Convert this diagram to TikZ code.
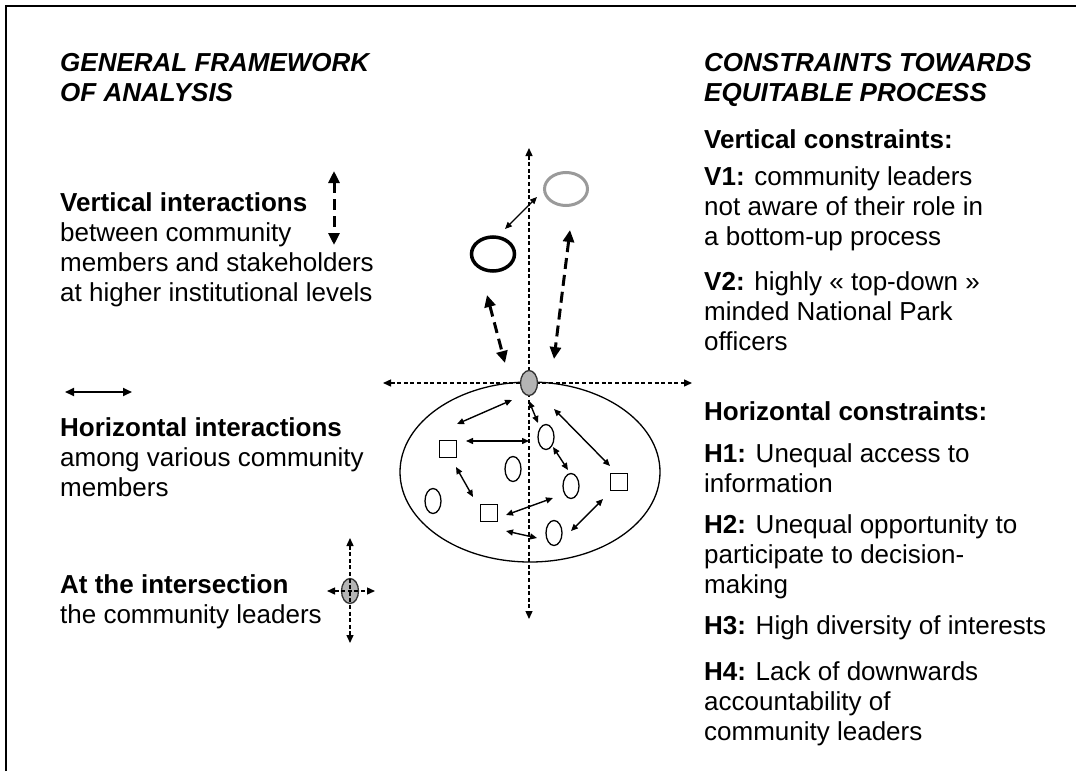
\documentclass[tikz,border=0pt]{standalone}
\usepackage{fontspec}
\setmainfont{Liberation Sans}
\usetikzlibrary{arrows.meta,shapes.geometric}
\definecolor{leadergray}{HTML}{B4B4B4}
\definecolor{ringgray}{HTML}{9A9A9A}
\begin{document}
\begin{tikzpicture}[x=1pt,y=-1pt,
  txt/.style={anchor=north west, inner sep=0pt, align=left, font=\fontsize{26}{30}\selectfont},
  head/.style={txt, font=\fontsize{26}{30}\selectfont\bfseries\itshape},
  axisline/.style={line width=1.4pt, dash pattern=on 4pt off 2.6pt, {Triangle[length=8pt,width=7pt]}-{Triangle[length=8pt,width=7pt]}},
  thinarr/.style={line width=1.4pt, {Triangle[length=7pt,width=6pt]}-{Triangle[length=7pt,width=6pt]}},
  thickarr/.style={line width=3pt, dash pattern=on 11pt off 6pt, {Triangle[length=12pt,width=11pt]}-{Triangle[length=12pt,width=11pt]}},
  member/.style={ellipse, draw, line width=1.3pt, minimum width=16pt, minimum height=25pt, inner sep=0pt},
  stake/.style={rectangle, draw, line width=1.3pt, minimum width=17pt, minimum height=17pt, inner sep=0pt},
  leader/.style={ellipse, draw=black!80, fill=leadergray, line width=1.3pt, minimum width=17pt, minimum height=25pt, inner sep=0pt}
]
\useasboundingbox (0,0) rectangle (1076,771);
% frame
\coordinate (fbl) at (6,771);
\coordinate (ftl) at (6,6);
\coordinate (ftr) at (1076,6);
\draw[line width=2.6pt] (fbl) -- (ftl) -- (ftr);

% ---------- left column ----------
\node[head] (lhead) at (60,53.4) {GENERAL FRAMEWORK\\OF ANALYSIS};
\node[txt] (vint) at (60,192.4) {\textbf{Vertical interactions}\\between community\\members and stakeholders\\at higher institutional levels};
\node[txt] (hint) at (60,417.4) {\textbf{Horizontal interactions}\\among various community\\members};
\node[txt] (iint) at (60,574.4) {\textbf{At the intersection}\\the community leaders};

% legend: vertical
\coordinate (lv1) at (334,171);
\coordinate (lv2) at (334,245);
\draw[thickarr] (lv1) -- (lv2);
% legend: horizontal
\coordinate (lh1) at (65,392);
\coordinate (lh2) at (132,392);
\draw[line width=2pt, {Triangle[length=9pt,width=8pt]}-{Triangle[length=9pt,width=8pt]}] (lh1) -- (lh2);
% legend: intersection
\node[leader] (ikon) at (350,591) {};
\coordinate (iv1) at (350,538);
\coordinate (iv2) at (350,643);
\coordinate (ih1) at (327,591);
\coordinate (ih2) at (375,591);
\draw[axisline] (iv1) -- (iv2);
\draw[axisline] (ih1) -- (ih2);

% ---------- right column ----------
\node[head] (rhead) at (704,53.4) {CONSTRAINTS TOWARDS\\EQUITABLE PROCESS};
\node[txt] (vcon) at (704,129.4) {\textbf{Vertical constraints:}};
\node[txt] (v1) at (704,166.4) {\textbf{V1:} community leaders\\not aware of their role in\\a bottom-up process};
\node[txt] (v2) at (704,271.4) {\textbf{V2:} highly «~top-down~»\\minded National Park\\officers};
\node[txt] (hcon) at (704,401.4) {\textbf{Horizontal constraints:}};
\node[txt] (h1) at (704,443.4) {\textbf{H1:} Unequal access to\\information};
\node[txt] (h2) at (704,514.4) {\textbf{H2:} Unequal opportunity to\\participate to decision-\\making};
\node[txt] (h3) at (704,615.4) {\textbf{H3:} High diversity of interests};
\node[txt] (h4) at (704,661.4) {\textbf{H4:} Lack of downwards\\accountability of\\community leaders};

% ---------- central diagram ----------
\node[ellipse, draw, line width=1.3pt, minimum width=260pt, minimum height=180pt, inner sep=0pt] (comm) at (530,472) {};

\coordinate (ax1) at (529,148);
\coordinate (ax2) at (529,619);
\coordinate (ay1) at (383,383);
\coordinate (ay2) at (692,383);
\draw[axisline] (ax1) -- (ax2);
\draw[axisline] (ay1) -- (ay2);

\node[leader] (lead) at (529,383) {};

% higher level stakeholders
\node[ellipse, draw=ringgray, line width=3pt, minimum width=43pt, minimum height=33pt, inner sep=0pt] (gst) at (566,189) {};
\node[ellipse, draw, line width=3.5pt, minimum width=43pt, minimum height=34pt, inner sep=0pt] (bst) at (493,254) {};

\coordinate (t1a) at (505,229);
\coordinate (t1b) at (537,197);
\draw[thinarr] (t1a) -- (t1b);
\coordinate (d1a) at (487,295);
\coordinate (d1b) at (505,363);
\draw[thickarr] (d1a) -- (d1b);
\coordinate (d2a) at (570,230);
\coordinate (d2b) at (554,359);
\draw[thickarr] (d2a) -- (d2b);

% community members
\node[stake] (s1) at (448,449) {};
\node[stake] (s2) at (619,482) {};
\node[stake] (s3) at (489,513) {};
\node[member] (e1) at (546,437) {};
\node[member] (e2) at (513,469) {};
\node[member] (e3) at (571,486) {};
\node[member] (e4) at (433,501) {};
\node[member] (e5) at (554,533) {};

\coordinate (a1a) at (457,424); \coordinate (a1b) at (512,400);
\coordinate (a2a) at (466,441); \coordinate (a2b) at (529,441);
\coordinate (a3a) at (529,401); \coordinate (a3b) at (538,423);
\coordinate (a4a) at (554,409); \coordinate (a4b) at (610,466);
\coordinate (a5a) at (553,447); \coordinate (a5b) at (568,470);
\coordinate (a6a) at (456,467); \coordinate (a6b) at (473,497);
\coordinate (a7a) at (506,515); \coordinate (a7b) at (553,498);
\coordinate (a8a) at (603,499); \coordinate (a8b) at (571,531);
\coordinate (a9a) at (506,531); \coordinate (a9b) at (537,538);
\foreach \p in {a1,a2,a3,a4,a5,a6,a7,a8,a9}
  \draw[thinarr] (\p a) -- (\p b);
\end{tikzpicture}
\end{document}
